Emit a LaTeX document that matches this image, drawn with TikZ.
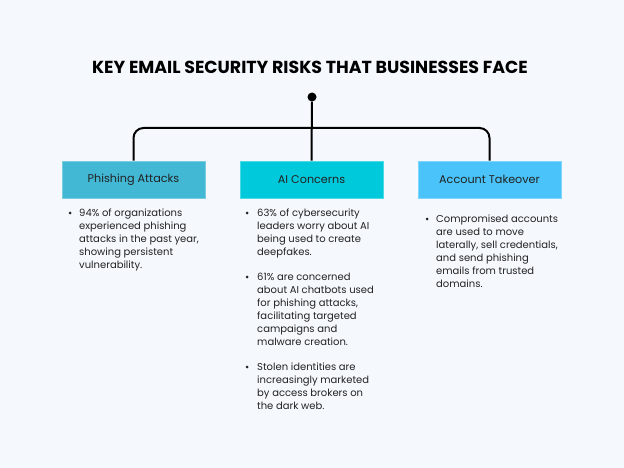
\documentclass[tikz,border=0pt]{standalone}
\usepackage{fontspec}
\setmainfont{Poppins}
\definecolor{bg}{HTML}{F5F9FD}
\definecolor{cphish}{HTML}{42B8D5}
\definecolor{cai}{HTML}{00C9DB}
\definecolor{cacct}{HTML}{49C3FA}
\definecolor{txt}{HTML}{222222}
\begin{document}
\begin{tikzpicture}[x=1pt,y=-1pt,
  catbox/.style={minimum width=143pt,minimum height=37pt,inner sep=0pt,font=\fontsize{11.2}{13}\selectfont,text=txt,draw=#1!70!white,line width=0.6pt,fill=#1},
  bodytext/.style={anchor=north west,align=left,inner sep=0pt,font=\fontsize{10}{13}\selectfont,text=txt},
  bul/.style={circle,fill=txt,inner sep=0pt,minimum size=3pt},
  conn/.style={line width=2pt,black}]
\fill[bg] (0,0) rectangle (624,468);
\useasboundingbox (0,0) rectangle (624,468);
\node[font=\fontsize{17.4}{20}\selectfont\bfseries] (title) at (310,67) {KEY EMAIL SECURITY RISKS THAT BUSINESSES FACE};
\node[circle,fill=black,inner sep=0pt,minimum size=9pt] (dot) at (312,97) {};
\node[catbox=cphish] (phish) at (133.5,179.5) {Phishing Attacks};
\node[catbox=cai] (ai) at (311.5,179.5) {AI Concerns};
\node[catbox=cacct] (acct) at (489.5,179.5) {Account Takeover};
\coordinate (junc) at (312,128);
\draw[conn] (dot) -- (ai.north);
\draw[conn,rounded corners=10pt] (phish.north) |- (junc) -| (acct.north);
% Phishing text
\node[bodytext] (t1) at (79,206.9) {\strut 94\% of organizations\\experienced phishing\\attacks in the past year,\\showing persistent\\vulnerability.};
\node[bul] (b1) at (70,213) {};
% AI text
\node[bodytext] (t2) at (257,206.9) {\strut 63\% of cybersecurity\\leaders worry about AI\\being used to create\\deepfakes.};
\node[bul] (b2) at (247,213) {};
\node[bodytext] (t3) at (257,270.9) {\strut 61\% are concerned\\about AI chatbots used\\for phishing attacks,\\facilitating targeted\\campaigns and\\malware creation.};
\node[bul] (b3) at (247,277) {};
\node[bodytext] (t4) at (257,360.9) {\strut Stolen identities are\\increasingly marketed\\by access brokers on\\the dark web.};
\node[bul] (b4) at (247,367) {};
% Account text
\node[bodytext] (t5) at (436,212.9) {\strut Compromised accounts\\are used to move\\laterally, sell credentials,\\and send phishing\\emails from trusted\\domains.};
\node[bul] (b5) at (427,219) {};
\end{tikzpicture}
\end{document}
